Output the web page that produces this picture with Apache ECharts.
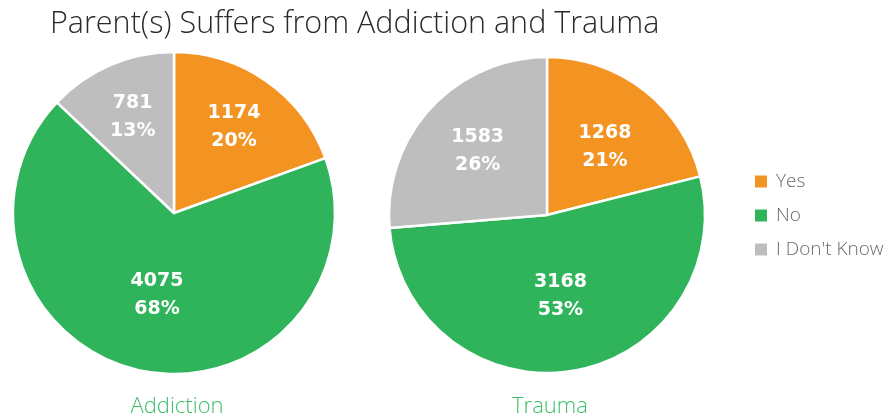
<!DOCTYPE html>
<html><head><meta charset="utf-8">
<script src="https://cdn.jsdelivr.net/npm/echarts@6/dist/echarts.min.js"></script>
<style>html,body{margin:0;padding:0;background:#fff}#c{width:893px;height:419px}</style>
</head><body><div id="c"></div>
<script>
const categories = ['Yes', 'No', "I Don't Know"];
const addictionValues = [1174, 4075, 781];
const addictionPercents = [20, 68, 13];
const traumaValues = [1268, 3168, 1583];
const traumaPercents = [21, 53, 26];
const pieNames = ['Addiction', 'Trauma'];
const colors = ['#F39322', '#30B45B', '#BEBEBE'];

const chart = echarts.init(document.getElementById('c'), null, {renderer: 'canvas'});
const centers = [[174, 213], [547, 215]];
const radii = [161, 158];
const percentsList = [addictionPercents, traumaPercents];
const FONT = '"DejaVu Sans", Verdana, sans-serif';
const LIGHT = '"Open Sans", "DejaVu Sans", sans-serif';

function makeSeries(idx, values) {
  const pcts = percentsList[idx];
  return {
    type: 'pie',
    name: pieNames[idx],
    center: centers[idx],
    radius: [0, radii[idx]],
    startAngle: 90,
    clockwise: true,
    avoidLabelOverlap: false,
    silent: true,
    itemStyle: {borderColor: '#fff', borderWidth: 2.5},
    label: {
      show: true, position: 'inside', color: '#fff', fontWeight: 'bold',
      fontSize: 19, lineHeight: 28, fontFamily: FONT,
      formatter: p => p.value + '\n' + pcts[p.dataIndex] + '%'
    },
    labelLayout: function (p) {
      const c = centers[idx];
      const r = p.labelRect;
      const lx = r.x + r.width / 2, ly = r.y + r.height / 2;
      const pct = pcts[p.dataIndex];
      const k = pct <= 20 ? 1.25 : (pct < 25 ? 1.05 : (pct < 40 ? 1.15 : 1.0));
      const extra = (pct > 20 && pct < 25) ? 5 : 0;
      return {dx: (lx - c[0]) * (k - 1) + extra, dy: (ly - c[1]) * (k - 1)};
    },
    labelLine: {show: false},
    data: values.map((v, i) => ({name: categories[i], value: v, itemStyle: {color: colors[i]}}))
  };
}

chart.setOption({
  animation: false,
  color: colors,
  title: [
    {text: 'Parent(s) Suffers from Addiction and Trauma', left: 45, top: 4,
     textStyle: {fontFamily: LIGHT, fontWeight: 300, fontSize: 30.5, color: '#2a2a2a'}},
    {text: pieNames[0], left: 172, top: 391, textAlign: 'center',
     textStyle: {fontFamily: LIGHT, fontWeight: 300, fontSize: 22, color: '#3DBE6A'}},
    {text: pieNames[1], left: 545, top: 391, textAlign: 'center',
     textStyle: {fontFamily: LIGHT, fontWeight: 300, fontSize: 22, color: '#3DBE6A'}}
  ],
  legend: {
    orient: 'vertical', left: 748, top: 167, itemWidth: 14, itemHeight: 14, itemGap: 15,
    icon: 'rect', selectedMode: false,
    textStyle: {fontFamily: LIGHT, fontWeight: 300, fontSize: 19, color: '#6a6a6a', padding: [0, 0, 0, 3]},
    data: categories
  },
  series: [makeSeries(0, addictionValues), makeSeries(1, traumaValues)]
});
</script></body></html>
